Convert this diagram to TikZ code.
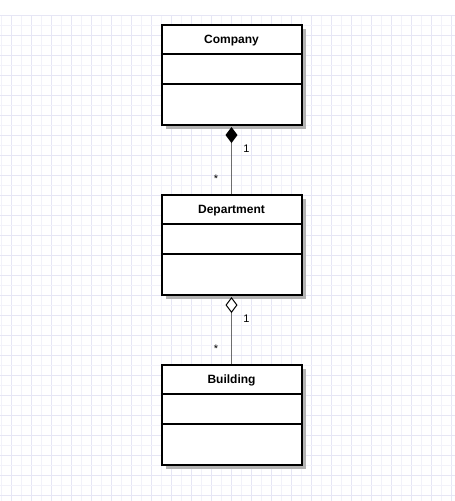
\documentclass[tikz,border=0pt]{standalone}
\usepackage{fontspec}
\setmainfont{Liberation Sans}
\usetikzlibrary{arrows.meta,shadows}
\definecolor{gridA}{RGB}{230,230,245}
\definecolor{gridB}{RGB}{242,242,250}
\definecolor{shadowc}{RGB}{179,179,179}
\definecolor{linkc}{RGB}{110,110,110}
\tikzset{
  classbox/.style={draw=black, line width=2pt, fill=white, minimum width=140pt, minimum height=100pt, inner sep=0pt,
    drop shadow={shadow xshift=4pt, shadow yshift=-4pt, fill=shadowc, opacity=1}},
  classtitle/.style={font=\bfseries\fontsize{12}{14}\selectfont, inner sep=0pt, anchor=base},
  divider/.style={line width=2pt, black},
  mult/.style={font=\fontsize{11}{13}\selectfont, inner sep=0pt},
  link/.style={draw=linkc, line width=1.2pt},
  compo/.style={{Diamond[length=16pt,width=12pt,color=black,fill=black]}-},
  aggr/.style={{Diamond[length=16pt,width=12pt,color=black,fill=white,line width=1pt]}-}
}
\begin{document}
\begin{tikzpicture}[x=1pt,y=-1pt]
\useasboundingbox (0,0) rectangle (455,501);
% grid
\foreach \k in {0,...,45} {
  \pgfmathtruncatemacro{\odd}{mod(\k,2)}
  \ifnum\odd=1 \draw[gridA, line width=1pt] (1.5+10*\k,15) -- (1.5+10*\k,501);
  \else \draw[gridB, line width=1pt] (1.5+10*\k,15) -- (1.5+10*\k,501); \fi
}
\foreach \k in {0,...,48} {
  \pgfmathtruncatemacro{\odd}{mod(\k,2)}
  \ifnum\odd=0 \draw[gridA, line width=1pt] (0,15+10*\k) -- (455,15+10*\k);
  \else \draw[gridB, line width=1pt] (0,15+10*\k) -- (455,15+10*\k); \fi
}
% classes
\node[classbox] (company) at (231.5,75) {};
\node[classbox] (department) at (231.5,245) {};
\node[classbox] (building) at (231.5,415) {};
\foreach \c in {company,department,building} {
  \draw[divider] ([yshift=-30pt]\c.north west) -- ([yshift=-30pt]\c.north east);
  \draw[divider] ([yshift=-60pt]\c.north west) -- ([yshift=-60pt]\c.north east);
}
\node[classtitle] (companyt) at ([yshift=-19.5pt]company.north) {Company};
\node[classtitle] (departmentt) at ([yshift=-19.5pt]department.north) {Department};
\node[classtitle] (buildingt) at ([yshift=-19.5pt]building.north) {Building};
% connectors
\draw[link, compo] ([yshift=-1pt]company.south) -- (department.north);
\draw[link, aggr] ([yshift=-1pt]department.south) -- (building.north);
\node[mult] (m1) at (246.5,149) {1};
\node[mult] (m2) at (216,178.5) {*};
\node[mult] (m3) at (246.5,319) {1};
\node[mult] (m4) at (216,348.5) {*};
\end{tikzpicture}
\end{document}
